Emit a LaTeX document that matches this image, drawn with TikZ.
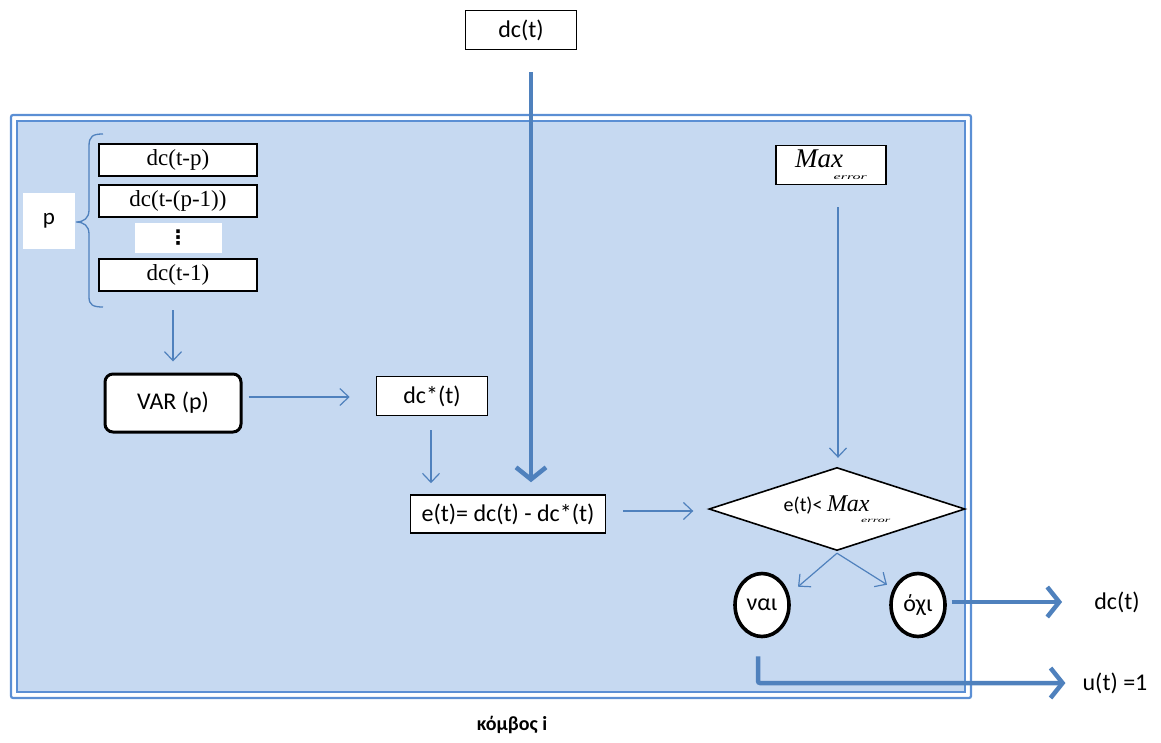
\documentclass[tikz,border=0pt]{standalone}
\usepackage{fontspec}
\setmainfont{Carlito}
\newfontfamily\serifface{Liberation Serif}
\newfontfamily\symbolface{DejaVu Sans}
\usetikzlibrary{arrows.meta,shapes.geometric}
\definecolor{panel}{HTML}{C6D9F1}
\definecolor{flow}{HTML}{4F81BD}
\definecolor{rim}{HTML}{5B8FD4}
% Max with a squeezed "error" subscript
\newcommand\maxerr[2]{{\serifface\itshape\fontsize{#1}{#1}\selectfont Max\kern-0.35em\raisebox{-0.45em}{\fontsize{#2}{#2}\selectfont\scalebox{1}[0.5]{error}}}}
\begin{document}
\begin{tikzpicture}[x=1pt,y=-1pt,
  box/.style={draw=black, line width=1.6pt, fill=white, inner sep=0pt, font=\fontsize{24}{28}\selectfont},
  sbox/.style={box, font=\serifface\fontsize{23}{26}\selectfont},
  oval/.style={ellipse, draw=black, line width=3.6pt, fill=white, inner sep=0pt, minimum width=54pt, minimum height=63pt, font=\fontsize{24}{26}\selectfont},
  thin/.style={draw=flow, line width=1.2pt, -{Straight Barb[length=9pt,width=17pt]}},
  big/.style={draw=flow, line width=4.5pt, -{Straight Barb[length=12pt,width=30pt]}},
  lbl/.style={inner sep=0pt, font=\fontsize{24}{28}\selectfont}]
\useasboundingbox (0,0) rectangle (1161,742);

% node frame: double blue rim around the filled panel
\draw[rim, line width=2.2pt, rounded corners=2pt] (11,115) rectangle (971,698);
\draw[rim, line width=2.4pt, fill=panel] (17,121) rectangle (965,692);

% input from above
\node[box, minimum width=111pt, minimum height=39pt] (dctop) at (521,30) {dc(t)};

% lagged values and their brace
\node[sbox, minimum width=158pt, minimum height=32pt] (lagp) at (178,160) {dc(t-p)};
\node[sbox, minimum width=158pt, minimum height=32pt] (lagq) at (178,201) {dc(t-(p-1))};
\node[fill=white, minimum width=87pt, minimum height=30pt, inner sep=0pt] (dots) at (178,238) {\symbolface\bfseries\fontsize{20}{20}\selectfont ⋮};
\node[sbox, minimum width=158pt, minimum height=32pt] (lag1) at (178,275) {dc(t-1)};
\node[fill=white, minimum width=52pt, minimum height=56pt, inner sep=0pt, font=\fontsize{23}{26}\selectfont] (pord) at (49,221) {p};
\draw[flow, line width=1.3pt] (103,134) .. controls (93,134) and (89,136) .. (89,146) -- (89,210)
  .. controls (89,218) and (84,222) .. (76,222) .. controls (84,222) and (89,226) .. (89,234)
  -- (89,297) .. controls (89,305) and (93,307) .. (103,307);
\coordinate (bracefoot) at (173,310);

% model and prediction
\node[box, line width=3pt, rounded corners=8pt, minimum width=136pt, minimum height=58pt] (var) at (173,403) {VAR (p)};
\node[box, minimum width=111pt, minimum height=39pt] (pred) at (432,396) {dc*(t)};
\node[box, minimum width=195pt, minimum height=38pt] (err) at (508,514) {e(t)= dc(t) - dc*(t)};

% threshold and decision
\node[box, minimum width=110pt, minimum height=39pt] (maxe) at (831,165) {\maxerr{27}{16}};
\node[inner sep=0pt, minimum width=255pt, minimum height=82pt] (testbox) at (837,509) {};
\draw[black, line width=1.6pt, fill=white] (testbox.west) -- (testbox.north) -- (testbox.east) -- (testbox.south) -- cycle;
\node[inner sep=0pt] (test) at (testbox.center) {\fontsize{20}{22}\selectfont e(t)< \maxerr{24}{14}};
\node[oval] (yes) at (762,605) {ναι};
\node[oval] (no) at (918,605) {όχι};

% outputs and caption
\node[lbl] (dcout) at (1117,602) {dc(t)};
\node[lbl] (uout) at (1115,683) {u(t) =1};
\node[inner sep=0pt, font=\bfseries\fontsize{20}{24}\selectfont] (caption) at (512,725) {κόμβος i};

% connectors
\draw[big] ([xshift=10pt,yshift=-22pt]dctop.south) -- ([xshift=23pt,yshift=12pt]err.north);
\draw[thin] (bracefoot) -- ([yshift=11pt]var.north);
\draw[thin] ([xshift=6pt,yshift=6pt]var.east) -- ([xshift=-26pt,yshift=-1pt]pred.west);
\draw[thin] ([xshift=-1pt,yshift=-14pt]pred.south) -- ([xshift=-77pt,yshift=11pt]err.north);
\draw[thin] ([xshift=17pt,yshift=3pt]err.east) -- ([xshift=-16pt,yshift=-2pt]testbox.west);
\draw[thin] ([xshift=7pt,yshift=-22pt]maxe.south) -- ([xshift=1pt,yshift=10pt]testbox.north);
\draw[thin] ([yshift=-3pt]testbox.south) -- ([xshift=36pt,yshift=-15pt]yes.north);
\draw[thin] ([yshift=-3pt]testbox.south) -- ([xshift=-31pt,yshift=-13pt]no.north);
\draw[big] ([xshift=5pt]no.east |- dcout.west) -- ([xshift=-32pt]dcout.west);
\draw[big, rounded corners=2pt] ([xshift=-4pt,yshift=-18pt]yes.south) |- ([xshift=-17pt]uout.west);
\end{tikzpicture}
\end{document}
